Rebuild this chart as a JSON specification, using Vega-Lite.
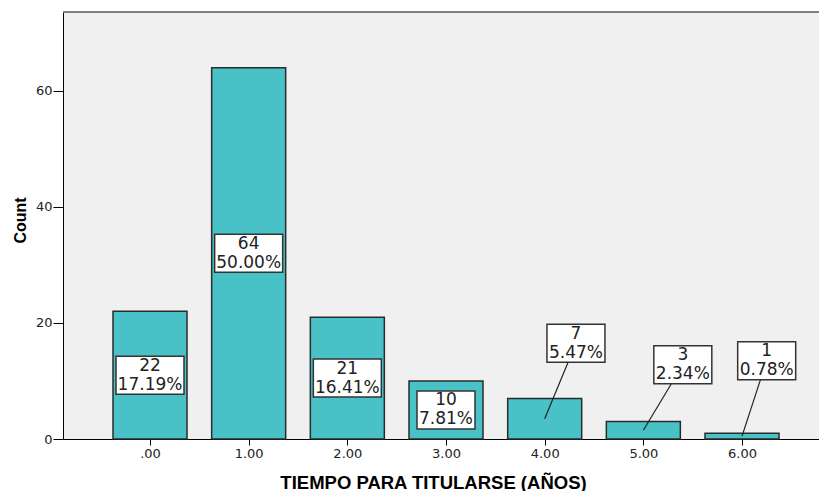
{
  "$schema": "https://vega.github.io/schema/vega-lite/v6.json",
  "width": 756,
  "height": 427,
  "autosize": {"type": "none"},
  "padding": {"left": 63, "top": 12, "right": 0, "bottom": 52},
  "background": "#ffffff",
  "config": {
    "view": {"fill": "#F0F0F0", "stroke": null}
  },
  "data": {
    "values": [
      {"t": 0, "count": 22, "pct": "17.19%"},
      {"t": 1, "count": 64, "pct": "50.00%"},
      {"t": 2, "count": 21, "pct": "16.41%"},
      {"t": 3, "count": 10, "pct": "7.81%"},
      {"t": 4, "count": 7, "pct": "5.47%", "lx": 4.317, "ly": 16.5},
      {"t": 5, "count": 3, "pct": "2.34%", "lx": 5.40, "ly": 12.8},
      {"t": 6, "count": 1, "pct": "0.78%", "lx": 6.25, "ly": 13.5}
    ]
  },
  "transform": [
    {"calculate": "isValid(datum.lx) ? datum.lx : datum.t", "as": "labx"},
    {"calculate": "isValid(datum.ly) ? datum.ly : datum.count / 2", "as": "laby"},
    {"calculate": "datum.count / 2", "as": "mid"},
    {"calculate": "datum.count + '\\n' + datum.pct", "as": "label"}
  ],
  "layer": [
    {
      "mark": {"type": "bar", "width": 74, "fill": "#48C2C6", "stroke": "#2B2B2B", "strokeWidth": 1.5},
      "encoding": {
        "x": {
          "field": "t",
          "type": "quantitative",
          "scale": {"domain": [-0.8817, 6.7802], "nice": false, "zero": false, "padding": 0},
          "axis": {
            "values": [0, 1, 2, 3, 4, 5, 6],
            "labelExpr": "datum.value == 0 ? '.00' : format(datum.value, '.2f')",
            "grid": false,
            "domainColor": "#000000",
            "domainWidth": 1,
            "tickColor": "#000000",
            "tickSize": 6,
            "labelPadding": 2,
            "labelFont": "DejaVu Sans",
            "labelFontSize": 13,
            "labelColor": "#222222",
            "title": "TIEMPO PARA TITULARSE (AÑOS)",
            "titleFont": "Liberation Sans",
            "titleFontWeight": "bold",
            "titleFontSize": 18.5,
            "titleColor": "#000000",
            "titleX": 370,
            "titleY": 49,
            "titleAlign": "center",
            "titleBaseline": "alphabetic"
          }
        },
        "y": {
          "field": "count",
          "type": "quantitative",
          "scale": {"domain": [0, 73.6], "nice": false},
          "axis": {
            "values": [0, 20, 40, 60],
            "grid": false,
            "domainColor": "#000000",
            "domainWidth": 1,
            "tickColor": "#000000",
            "tickSize": 10,
            "labelPadding": 1,
            "labelFont": "DejaVu Sans",
            "labelFontSize": 13,
            "labelColor": "#222222",
            "title": "Count",
            "titleFont": "Liberation Sans",
            "titleFontWeight": "bold",
            "titleFontSize": 16,
            "titleColor": "#000000",
            "titleAngle": -90,
            "titleX": -43,
            "titleY": 208,
            "titleAlign": "center",
            "titleBaseline": "middle"
          }
        }
      }
    },
    {
      "mark": {"type": "rule", "color": "#222222", "strokeWidth": 1.2},
      "encoding": {
        "x": {"field": "t", "type": "quantitative"},
        "y": {"field": "mid", "type": "quantitative"},
        "x2": {"field": "labx"},
        "y2": {"field": "laby"}
      }
    },
    {
      "mark": {"type": "point", "filled": true, "fill": "#FFFFFF", "stroke": "#333333", "strokeWidth": 1.5, "opacity": 1, "fillOpacity": 1},
      "encoding": {
        "x": {"field": "labx", "type": "quantitative"},
        "y": {"field": "laby", "type": "quantitative"},
        "shape": {
          "condition": {"test": "length(datum.pct) > 5", "value": "M-1,-0.559H1V0.559H-1Z"},
          "value": "M-1,-0.655H1V0.655H-1Z"
        },
        "size": {
          "condition": {"test": "length(datum.pct) > 5", "value": 4624},
          "value": 3364
        }
      }
    },
    {
      "mark": {"type": "text", "font": "DejaVu Sans", "fontSize": 17, "color": "#222222", "lineBreak": "\n", "lineHeight": 19, "baseline": "middle", "align": "center", "dy": -9.5},
      "encoding": {
        "x": {"field": "labx", "type": "quantitative"},
        "y": {"field": "laby", "type": "quantitative"},
        "text": {"field": "label", "type": "nominal"}
      }
    },
    {
      "mark": {"type": "rule", "color": "#808080", "strokeWidth": 2},
      "encoding": {"y": {"datum": 73.6}}
    }
  ]
}
